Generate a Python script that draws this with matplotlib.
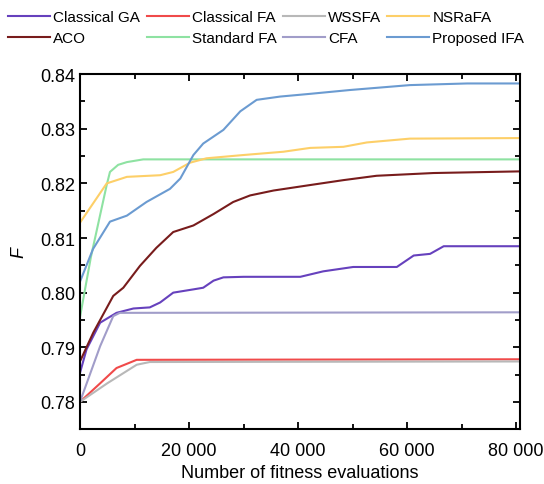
import numpy as np
import matplotlib
matplotlib.use('Agg')
import matplotlib.pyplot as plt
from matplotlib.ticker import MultipleLocator, FuncFormatter

plt.rcParams['font.family'] = ['Liberation Sans', 'DejaVu Sans']

# values (x = fitness evaluations, y = F)
ga_x = [0, 1200, 3700, 6700, 9800, 12800, 14700, 17100, 20800, 22600, 24500, 26300, 30000, 40400, 44600, 50100, 58100, 61200, 64200, 66700, 80500]
ga_y = [0.7853, 0.7896, 0.7945, 0.7963, 0.7971, 0.7973, 0.7982, 0.8000, 0.8006, 0.8009, 0.8022, 0.8028, 0.8029, 0.8029, 0.8039, 0.8047, 0.8047, 0.8068, 0.8071, 0.8085, 0.8085]

cfa1_x = [0, 3700, 6700, 10400, 80500]
cfa1_y = [0.7800, 0.7834, 0.7862, 0.7877, 0.7878]

wssfa_x = [0, 5000, 10400, 12800, 80500]
wssfa_y = [0.7800, 0.7834, 0.7868, 0.7873, 0.7874]

nsrafa_x = [0, 4900, 8600, 14700, 17100, 20200, 23200, 30000, 37300, 42200, 48300, 52600, 60500, 80500]
nsrafa_y = [0.8128, 0.8200, 0.8212, 0.8215, 0.8221, 0.8238, 0.8246, 0.8252, 0.8258, 0.8265, 0.8267, 0.8275, 0.8282, 0.8283]

aco_x = [0, 2450, 6100, 7950, 11000, 14000, 17100, 20800, 24500, 28100, 31200, 35500, 42200, 48300, 54400, 64800, 80500]
aco_y = [0.7874, 0.7927, 0.7994, 0.8009, 0.8049, 0.8082, 0.8111, 0.8123, 0.8144, 0.8166, 0.8178, 0.8187, 0.8197, 0.8206, 0.8214, 0.8219, 0.8222]

std_x = [0, 2000, 4900, 5500, 7000, 8600, 11600, 80500]
std_y = [0.7955, 0.8065, 0.8197, 0.8221, 0.8234, 0.8239, 0.8244, 0.8244]

cfa_x = [0, 3700, 6100, 7300, 80500]
cfa_y = [0.7800, 0.7902, 0.7957, 0.7963, 0.7964]

ifa_x = [0, 2400, 5500, 8600, 12200, 16500, 18400, 20800, 22600, 26300, 29400, 32400, 36700, 42200, 49500, 60500, 71000, 80500]
ifa_y = [0.8020, 0.8080, 0.8130, 0.8141, 0.8166, 0.8190, 0.8209, 0.8252, 0.8273, 0.8298, 0.8332, 0.8353, 0.8359, 0.8364, 0.8371, 0.8380, 0.8383, 0.8383]

series = [
    ('Classical GA', ga_x, ga_y, '#6641bd'),
    ('ACO', aco_x, aco_y, '#781c1c'),
    ('Classical FA', cfa1_x, cfa1_y, '#f04a4a'),
    ('Standard FA', std_x, std_y, '#8ee2a2'),
    ('WSSFA', wssfa_x, wssfa_y, '#b8b8b8'),
    ('CFA', cfa_x, cfa_y, '#a19dc9'),
    ('NSRaFA', nsrafa_x, nsrafa_y, '#fdcf68'),
    ('Proposed IFA', ifa_x, ifa_y, '#6b9bd1'),
]

fig = plt.figure(figsize=(5.44, 4.85), dpi=100)
ax = fig.add_axes([0.147, 0.113, 0.809, 0.732])

for name, xs, ys, c in series:
    ax.plot(xs, ys, color=c, lw=1.5, label=name)

ax.set_xlim(0, 80700)
ax.set_ylim(0.775, 0.84)
ax.xaxis.set_major_locator(MultipleLocator(20000))
ax.xaxis.set_minor_locator(MultipleLocator(10000))
ax.yaxis.set_major_locator(MultipleLocator(0.01))
ax.yaxis.set_minor_locator(MultipleLocator(0.005))
ax.xaxis.set_major_formatter(FuncFormatter(lambda v, p: f'{int(v):,}'.replace(',', ' ')))
ax.yaxis.set_major_formatter(FuncFormatter(lambda v, p: f'{v:.2f}'))
ax.tick_params(which='both', direction='in', top=True, right=True, labelsize=13, width=1.3)
ax.tick_params(which='major', length=5)
ax.tick_params(which='minor', length=3.5)
ax.tick_params(axis='x', pad=9)
for s in ax.spines.values():
    s.set_linewidth(1.5)

ax.set_xlabel('Number of fitness evaluations', fontsize=13, labelpad=4)
ax.set_ylabel('F', fontsize=13, style='italic', labelpad=9)

fig.legend(loc='upper left', bbox_to_anchor=(0.015, 0.977), ncol=4, frameon=False,
           fontsize=11, handlelength=2.75, handletextpad=0.2, columnspacing=0.42,
           labelspacing=0.45, borderpad=0, borderaxespad=0)

plt.savefig('out.png', dpi=100)
